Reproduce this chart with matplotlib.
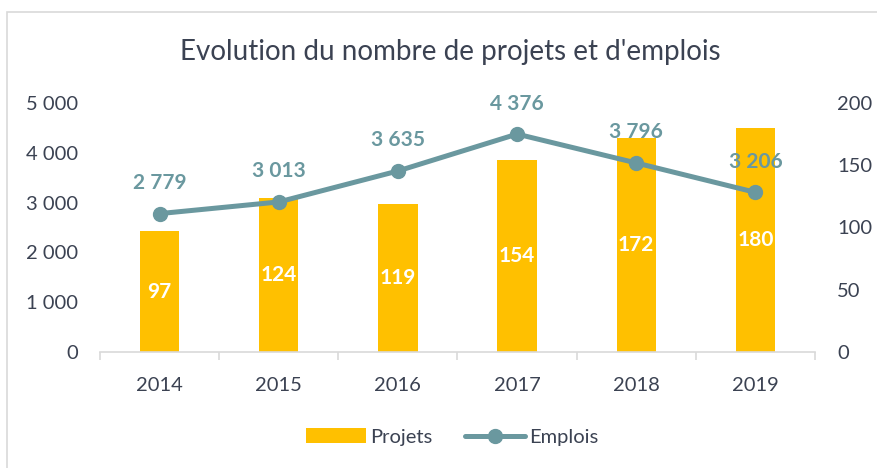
import matplotlib.pyplot as plt
from matplotlib.patches import Rectangle
from matplotlib.ticker import FuncFormatter
import numpy as np

plt.rcParams['font.family'] = ['Lato', 'DejaVu Sans']

# data
years = ['2014', '2015', '2016', '2017', '2018', '2019']
projets = [97, 124, 119, 154, 172, 180]
emplois = [2779, 3013, 3635, 4376, 3796, 3206]

bar_color = '#FFC000'
line_color = '#6A989F'
text_color = '#3B4252'
axis_color = '#D9D9D9'

fig = plt.figure(figsize=(8.77, 4.68), dpi=100)
W, H = 877, 468
fig.patches.append(Rectangle((7 / W, -0.1), 1.2, 1.1 - 12 / H, transform=fig.transFigure,
                             fill=False, edgecolor='#D9D9D9', linewidth=1.2))

ax = fig.add_axes([100 / W, 1 - 352 / H, 715 / W, 249 / H])
ax2 = ax.twinx()
x = np.arange(len(years))

# bars on the right axis
ax2.bar(x, projets, width=0.33, color=bar_color, label='Projets', zorder=2)
ax2.set_ylim(0, 200)
ax2.set_yticks([0, 50, 100, 150, 200])
for xi, v in zip(x, projets):
    ax2.text(xi, v / 2, str(v), ha='center', va='center', color='white',
             fontsize=15, fontweight='bold')

# line on the left axis, drawn above bars
ax.set_zorder(ax2.get_zorder() + 1)
ax.patch.set_visible(False)
ax.plot(x, emplois, color=line_color, linewidth=3.6, marker='o', markersize=10,
        label='Emplois', solid_capstyle='round')
ax.set_ylim(0, 5000)
ax.set_yticks(range(0, 5001, 1000))
fmt = FuncFormatter(lambda v, p: '{:,}'.format(int(v)).replace(',', ' '))
ax.yaxis.set_major_formatter(fmt)
for xi, v in zip(x, emplois):
    ax.annotate('{:,}'.format(v).replace(',', ' '), (xi, v), xytext=(0, 22),
                textcoords='offset points', ha='center', va='center',
                color=line_color, fontsize=15, fontweight='bold')

ax.set_xlim(-0.5, len(years) - 0.5)
ax.set_xticks(x)
ax.set_xticklabels(years)
ax.set_xticks(np.arange(-0.5, len(years)), minor=True)
ax.tick_params(axis='x', which='major', length=0, pad=18, labelsize=14.5, colors=text_color)
ax.tick_params(axis='x', which='minor', length=6, color=axis_color, width=1.2)
ax.tick_params(axis='y', length=0, pad=16, labelsize=14.5, colors=text_color)
ax2.tick_params(axis='y', length=0, pad=16, labelsize=14.5, colors=text_color)

for a in (ax, ax2):
    for s in ('top', 'left', 'right'):
        a.spines[s].set_visible(False)
ax.spines['bottom'].set_color(axis_color)
ax.spines['bottom'].set_linewidth(1.2)
ax2.spines['bottom'].set_visible(False)

fig.text(450 / W, 1 - 52 / H, "Evolution du nombre de projets et d'emplois",
         ha='center', va='center', fontsize=20, color=text_color)

h1, l1 = ax2.get_legend_handles_labels()
h2, l2 = ax.get_legend_handles_labels()
fig.legend(h1 + h2, l1 + l2, loc='center', bbox_to_anchor=(452 / W, 1 - 437 / H),
           ncol=2, frameon=False, fontsize=14.5, labelcolor=text_color,
           handlelength=3.0, handletextpad=0.2, columnspacing=1.6)

fig.savefig('out.png', dpi=100)
